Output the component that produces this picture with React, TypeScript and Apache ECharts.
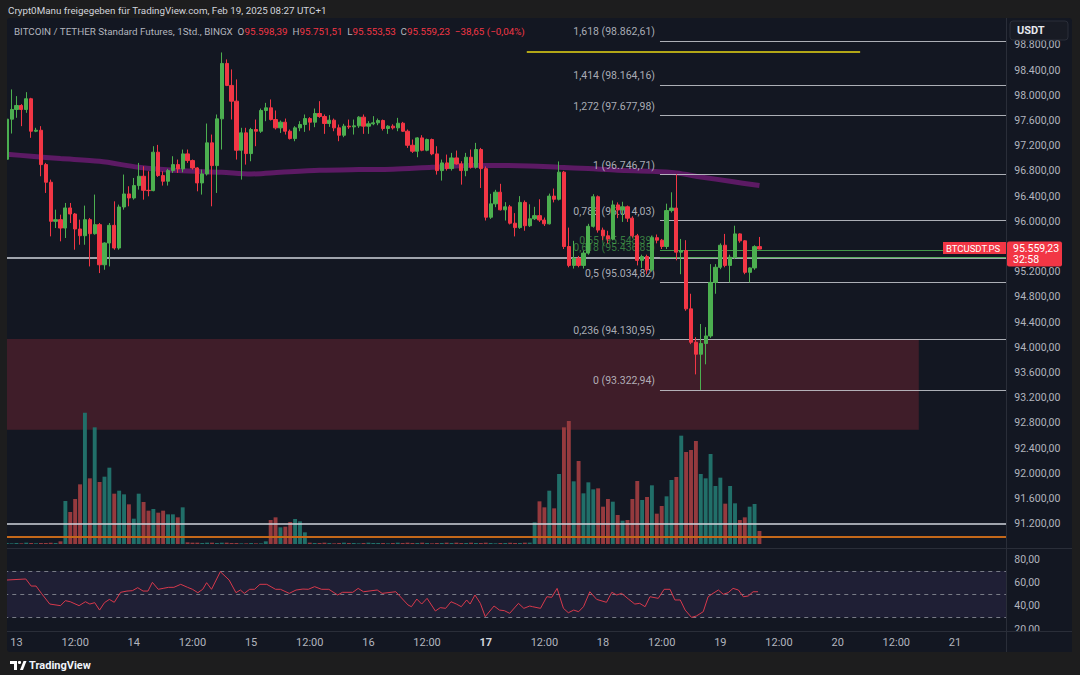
import React, { useEffect, useRef } from "react";
import * as echarts from "echarts";

// ---------- axis / time settings ----------
const FIRST_HOUR = -2; // hours relative to Feb 13, 00:00
const LAST_AXIS_HOUR = 202;
const FIRST_DAY = 13;
const BOLD_DAY = 17;

// ---------- OHLC rows [open, high, low, close], one per hour from FIRST_HOUR ----------
const candlesDay13: number[][] = [
  [96985, 97643, 96953, 97621], [97621, 98093, 97393, 97775],
  [97775, 97987, 97643, 97838], [97838, 97860, 97510, 97775], [97775, 98050, 97722, 97945], [97945, 97960, 97325, 97430],
  [97430, 97484, 97415, 97445], [97445, 97510, 96715, 96900], [96900, 96927, 96450, 96620], [96620, 96662, 95761, 96000],
  [96000, 96185, 95893, 96026], [96026, 96105, 95682, 95893], [95893, 96291, 95735, 96212], [96212, 96291, 95973, 96116],
  [96116, 96132, 95549, 95878], [95878, 96026, 95628, 95771], [95771, 96249, 95628, 96026], [96026, 96053, 95284, 95803],
  [95803, 96424, 95788, 95947], [95947, 95973, 95178, 95310], [95310, 95666, 95231, 95655], [95655, 95973, 95284, 95936],
  [95936, 96317, 95549, 95576], [95576, 96265, 95549, 96227], [96227, 96742, 96185, 96434], [96434, 96556, 96238, 96370],
];
const candlesDay14: number[][] = [
  [96370, 96688, 96344, 96567], [96567, 96927, 96503, 96715], [96715, 96874, 96344, 96492], [96492, 96794, 96397, 96487],
  [96487, 97192, 96476, 97097], [97097, 97213, 96704, 96726], [96726, 96794, 96567, 96636], [96636, 96832, 96567, 96805],
  [96805, 97033, 96768, 96900], [96900, 96980, 96768, 96832], [96832, 97139, 96778, 97070], [97070, 97139, 96927, 96964],
  [96964, 96980, 96821, 96847], [96847, 96860, 96476, 96609], [96609, 96821, 96424, 96752], [96752, 97552, 96726, 97245],
  [97245, 97377, 96238, 96884], [96884, 97695, 96450, 97626], [97626, 98680, 97139, 98506], [98506, 98570, 98146, 98157],
  [98157, 98411, 97616, 97907], [97907, 98252, 96980, 97128], [97128, 97484, 96662, 97404], [97404, 97484, 96900, 97075],
];
const candlesDay15: number[][] = [
  [97075, 97483, 96953, 97457], [97457, 97615, 97192, 97430], [97430, 97790, 97403, 97759], [97759, 97880, 97589, 97801],
  [97801, 97934, 97600, 97615], [97615, 97759, 97457, 97483], [97483, 97600, 97403, 97573], [97573, 97631, 97377, 97430],
  [97430, 97457, 97298, 97313], [97313, 97510, 97271, 97483], [97483, 97589, 97430, 97536], [97536, 97695, 97419, 97631],
  [97631, 97653, 97441, 97573], [97573, 97790, 97494, 97711], [97711, 97907, 97642, 97663], [97663, 97695, 97388, 97552],
  [97552, 97685, 97499, 97605], [97605, 97631, 97430, 97483], [97483, 97536, 97271, 97366], [97366, 97547, 97335, 97510],
  [97510, 97615, 97467, 97499], [97499, 97615, 97377, 97515], [97515, 97669, 97483, 97653], [97653, 97695, 97388, 97510],
];
const candlesDay16: number[][] = [
  [97510, 97589, 97388, 97547], [97547, 97669, 97525, 97563], [97563, 97631, 97525, 97600], [97600, 97615, 97441, 97473],
  [97473, 97525, 97388, 97510], [97510, 97540, 97457, 97483], [97483, 97642, 97430, 97557], [97557, 97578, 97419, 97430],
  [97430, 97457, 97165, 97207], [97207, 97298, 97085, 97112], [97112, 97335, 97017, 97324], [97324, 97367, 97112, 97128],
  [97128, 97313, 97112, 97298], [97298, 97313, 97049, 97070], [97070, 97192, 96741, 96805], [96805, 96980, 96646, 96927],
  [96927, 97059, 96805, 96837], [96837, 97086, 96805, 97006], [97006, 97123, 96900, 96911], [96911, 96953, 96582, 96805],
  [96805, 97086, 96715, 97017], [97017, 97139, 96836, 96858], [96858, 97245, 96836, 97139], [97139, 97165, 96529, 96836],
];
const candlesDay17: number[][] = [
  [96836, 96870, 96012, 96065], [96065, 96436, 96038, 96277], [96277, 96500, 96224, 96462], [96462, 96595, 96171, 96182],
  [96182, 96304, 96012, 96230], [96230, 96260, 95950, 95970], [95970, 96130, 95760, 95900], [95900, 96400, 95880, 96300],
  [96300, 96330, 95850, 95930], [95930, 96270, 95910, 96040], [96040, 96230, 96020, 96090], [96090, 96350, 95990, 96020],
  [96020, 96060, 95925, 95960], [95960, 96440, 95950, 96400], [96400, 96520, 96300, 96350], [96350, 96950, 96330, 96780],
  [96780, 96800, 95560, 95600], [95600, 95900, 95270, 95300], [95300, 95690, 95250, 95415], [95415, 95450, 95270, 95300],
  [95300, 95530, 95250, 95495], [95495, 95960, 95470, 95920], [95920, 96430, 95900, 96390], [96390, 96410, 95820, 95860],
];
const candlesDay18: number[][] = [
  [95860, 95900, 95700, 95770], [95770, 95850, 95650, 95720], [95720, 96330, 95700, 96260], [96260, 96300, 96050, 96180],
  [96180, 96310, 95990, 96230], [96230, 96250, 95990, 96050], [96050, 96080, 95740, 95770], [95770, 95800, 95300, 95380],
  [95380, 95470, 95260, 95440], [95440, 95470, 95160, 95230], [95230, 95770, 95200, 95740], [95740, 95790, 95650, 95700],
  [95700, 95720, 95560, 95600], [95600, 96280, 95560, 96170], [96170, 96460, 96140, 96210], [96210, 96746.71, 95380, 95510],
  [95510, 95720, 95160, 95535], [95535, 95700, 94580, 94610], [94610, 94850, 94050, 94080], [94080, 94160, 93570, 93890],
  [93890, 94370, 93322.94, 94060], [94060, 94320, 93730, 94180], [94180, 95320, 94150, 95030], [95030, 95320, 94850, 95270],
];
const candlesDay19: number[][] = [
  [95270, 95650, 95240, 95620], [95620, 95800, 95270, 95300], [95300, 95470, 95030, 95430], [95430, 95930, 95400, 95800],
  [95800, 95810, 95660, 95690], [95690, 95700, 95160, 95190], [95190, 95270, 95030, 95260], [95260, 95620, 95230, 95597.88],
  [95598.39, 95751.51, 95553.53, 95559.23],
];
const candles = [
  ...candlesDay13, ...candlesDay14, ...candlesDay15, ...candlesDay16,
  ...candlesDay17, ...candlesDay18, ...candlesDay19,
];

// ---------- volume per hour (same hours as candles) ----------
const volumesA = [3, 2, 3, 2, 4, 3, 2, 3, 3, 4, 3, 8,
  129, 96, 135, 179, 394, 197, 350, 186, 202, 229, 151, 160, 149, 119, 76, 151, 126, 100, 105, 94, 100, 89, 89, 80, 110];
const volumesB = [5, 4, 4, 3, 4, 4, 3, 4, 4, 3, 3, 2, 2, 3, 2, 2,
  8, 72, 80, 50, 52, 66, 75, 68, 35];
const volumesC = [4, 3, 3, 4, 3, 2, 3, 4, 3, 3, 2, 3, 4, 3, 3, 3, 2, 3, 4, 3, 4, 3,
  3, 4, 3, 2, 3, 3, 4, 3, 4, 3, 3, 4, 3, 3, 4, 3, 2, 3, 3, 4, 3, 3];
const volumesD = [4, 4, 65, 128, 110, 160, 107, 210, 350, 369, 188, 249, 152, 185, 164, 167, 112, 135, 127, 87,
  70, 72, 135, 189, 132, 141, 176, 91, 114, 143, 192, 201, 325, 276, 282, 309, 210, 197, 270, 174,
  199, 121, 174, 122, 72, 80, 112, 120, 39];
const volumes = [...volumesA, ...volumesB, ...volumesC, ...volumesD];

// ---------- moving average (hour, price) ----------
const maPoints: number[][] = [
  [-2, 97064], [3, 97033], [9, 96996], [17, 96953], [25, 96858], [33, 96805], [42, 96778], [48, 96751],
  [54, 96778], [62, 96810], [70, 96821], [77, 96826], [85, 96858], [93, 96885], [99, 96885], [105, 96879],
  [111, 96858], [117, 96837], [123, 96810], [130, 96794], [135, 96767], [140, 96704], [146, 96635], [152, 96567],
];

// ---------- RSI (hour, value) ----------
const rsiPoints: number[][] = [
  [-2, 62.3], [1.9, 63.2], [3, 57.1], [4, 57.1], [5.1, 50.8], [6.8, 41.6], [9, 40.2], [10, 44.5], [11, 43.6],
  [12.8, 40.2], [14.1, 43.6], [15, 41.6], [16, 42.8], [17, 36.4], [18, 42.8], [19, 45.6], [20, 43.1], [21.3, 51.7],
  [22.6, 52.8], [23.7, 53.1], [24.8, 55.7], [25.9, 52.8], [26.9, 52.8], [27.8, 60.3], [29, 54.3], [30, 55.1],
  [31.1, 56], [32.2, 56], [33.6, 58.6], [35, 56], [36, 54.3], [37.1, 51.4], [38.1, 54.3], [38.9, 60], [39.9, 54.3],
  [41.7, 69.5], [43.5, 62.3], [44.9, 51.4], [45.8, 53.7], [46.6, 50.8], [47.7, 54.3], [48.7, 54.3], [49.8, 58.6],
  [51.2, 58.6], [53, 54.3], [54, 54.3], [55.8, 50.8], [57.2, 53.7], [58.6, 54.5], [59.7, 54.3], [61, 56.6],
  [62.4, 54.3], [63.9, 54.3], [65.7, 49.4], [66.7, 51.7], [68.8, 51.7], [69.9, 55.1], [71, 52.2], [73.8, 53.7],
  [74.8, 50.8], [77.6, 52.2], [80.1, 40.8], [80.8, 39.3], [81.9, 45.9], [82.9, 41.6], [84, 46.5], [85.7, 35.6],
  [86.7, 38.5], [87.8, 37.9], [88.9, 43.6], [90, 41.6], [91, 39.3], [92.1, 45.1], [92.8, 41.6], [93.8, 49.4],
  [94.9, 42.2], [95.9, 30.7], [97.7, 39.9], [98.8, 36.4], [99.8, 35.9], [100.9, 33.6], [102.7, 42.2], [103.8, 37.9],
  [105, 39.9], [105.6, 39.3], [107.2, 37.9], [108.5, 47.9], [109.5, 47.4], [110.6, 55.1], [111.9, 37.9], [112.9, 34.1],
  [114, 36.4], [115, 35], [116, 39.3], [117.3, 52.2], [118.7, 45.6], [120.7, 43.1], [121.8, 51.7], [122.8, 49.4],
  [123.8, 50.8], [125.2, 45.9], [126.5, 41.6], [127.5, 42.2], [128.6, 39.3], [129.6, 47.9], [131.3, 46.5], [132.5, 54.3],
  [133.7, 54.3], [134.7, 45.1], [135.8, 45.1], [136.8, 36.4], [138.1, 30.1], [139.1, 31.3], [140.5, 35], [141.5, 47.9],
  [142.5, 50.8], [143.6, 53.7], [144.6, 50], [145.6, 51.4], [146.6, 55.1], [147.7, 53.7], [148.7, 47.9], [149.7, 48.5],
  [150.7, 52.2], [151.7, 52.2],
];
const rsiBands = [70, 50, 30];
const rsiTicks = [20, 40, 60, 80];

// ---------- Fibonacci retracement ----------
const fibRatios = [1.618, 1.414, 1.272, 1, 0.786, 0.65, 0.618, 0.5, 0.236, 0];
const fibPrices = [98862.61, 98164.16, 97677.98, 96746.71, 96014.03, 95548.39, 95436.85, 95034.82, 94130.95, 93322.94];
const fibGreen = [0.65, 0.618];
const fibStartHour = 131.65;

// ---------- drawn levels ----------
const supportPrice = 95418;
const lowerWhitePrice = 91200;
const orangePrice = 90990;
const yellowLevel = { price: 98688, fromHour: 104.4, toHour: 172.6 };
const demandZone = { top: 94131, bottom: 92690, fromHour: -2.5, toHour: 184.6 };

// ---------- header ----------
const headerLine = "Crypt0Manu freigegeben für TradingView.com, Feb 19, 2025 08:27 UTC+1";
const symbolLine = "BITCOIN / TETHER Standard Futures, 1Std., BINGX";
const lastChange = -38.65;
const lastChangePct = -0.04;
const countdown = "32:58";

function fmt(n: number, d = 2): string {
  const neg = n < 0;
  const s = Math.abs(n).toFixed(d);
  const [i, f] = s.split(".");
  const ip = i.replace(/\B(?=(\d{3})+(?!\d))/g, ".");
  return (neg ? "−" : "") + ip + (f ? "," + f : "");
}
function ratioStr(r: number): string {
  return String(r).replace(".", ",");
}

const BG_OUTER = "#1d1d1e";
const BG_PANEL = "#131722";
const UP = "#4caf50";
const DOWN = "#f23645";
const AXIS_TEXT = "#b2b5be";
const SEP = "#2a2e39";
const FONT = "Roboto, 'Noto Sans', sans-serif";

export default function App() {
  const ref = useRef<HTMLDivElement>(null);
  useEffect(() => {
    if (!ref.current) return;
    const chart = echarts.init(ref.current, undefined, { renderer: "svg" });

    const cats = Array.from({ length: LAST_AXIS_HOUR - FIRST_HOUR + 1 }, (_, i) => String(i + FIRST_HOUR));
    const candleData = candles.map(([o, h, l, c]) => [o, c, l, h]);
    const volData = volumes.map((v, i) => {
      const c = candles[i];
      const up = c ? c[3] >= c[0] : true;
      return { value: v, itemStyle: { color: up ? "#216f69" : "#953a3e" } };
    });
    const last = candles[candles.length - 1];

    const gridLeft = 4.28;
    const gridWidth = 1002;
    const hMin = FIRST_HOUR - 0.5;
    const hMax = LAST_AXIS_HOUR + 0.5;

    const fibLines = fibPrices.map((p, i) => {
      const green = fibGreen.includes(fibRatios[i]);
      return [
        { coord: [fibStartHour, p], lineStyle: { color: green ? "rgba(76,175,80,0.85)" : "rgba(200,202,208,0.85)", width: 1, type: "solid" } },
        { coord: [hMax, p] },
      ];
    });

    const option: any = {
      animation: false,
      backgroundColor: BG_OUTER,
      textStyle: { fontFamily: FONT },
      grid: [
        { left: gridLeft, width: gridWidth, top: 19.7, height: 529.2, outerBoundsMode: "none", containLabel: false },
        { left: gridLeft, width: gridWidth, top: 344, height: 200, outerBoundsMode: "none", containLabel: false },
        { left: gridLeft, width: gridWidth, top: 549, height: 82, outerBoundsMode: "none", containLabel: false },
      ],
      xAxis: [
        { type: "category", gridIndex: 0, data: cats, show: false, boundaryGap: true },
        { type: "category", gridIndex: 1, data: cats, show: false, boundaryGap: true },
        {
          type: "category", gridIndex: 2, data: cats, boundaryGap: true,
          axisLine: { show: false }, axisTick: { show: false }, splitLine: { show: false },
          axisLabel: {
            interval: (index: number) => {
              const h = index + FIRST_HOUR;
              return h >= 0 && h % 12 === 0;
            },
            hideOverlap: false,
            margin: 6,
            color: AXIS_TEXT,
            fontSize: 11,
            fontFamily: FONT,
            formatter: (value: string) => {
              const h = Number(value);
              if (h % 24 === 0) {
                const day = FIRST_DAY + h / 24;
                return day === BOLD_DAY ? `{b|${day}}` : String(day);
              }
              return "12:00";
            },
            rich: { b: { fontWeight: "bold", color: "#d1d4dc", fontSize: 11, fontFamily: FONT } },
          },
        },
        { type: "value", gridIndex: 0, min: hMin, max: hMax, show: false },
        { type: "value", gridIndex: 2, min: hMin, max: hMax, show: false },
      ],
      yAxis: [
        {
          type: "value", gridIndex: 0, position: "right", min: 90800, max: 99200, interval: 400,
          axisLine: { show: false }, axisTick: { show: false }, splitLine: { show: false },
          axisLabel: {
            color: AXIS_TEXT, fontSize: 10.5, fontFamily: FONT, margin: 8,
            showMinLabel: false, showMaxLabel: false,
            formatter: (v: number) => fmt(v),
          },
        },
        { type: "value", gridIndex: 1, min: 0, max: 600, show: false },
        {
          type: "value", gridIndex: 2, position: "right", min: 18.36, max: 89.05,
          axisLine: { show: false }, axisTick: { show: false }, splitLine: { show: false },
          axisLabel: {
            color: AXIS_TEXT, fontSize: 10.5, fontFamily: FONT, margin: 8,
            customValues: rsiTicks,
            formatter: (v: number) => fmt(v),
          },
        },
      ],
      series: [
        {
          type: "line", name: "zone", xAxisIndex: 3, yAxisIndex: 0, data: [], z: 1,
          markArea: {
            silent: true,
            itemStyle: { color: "rgba(242,54,69,0.2)" },
            data: [[{ coord: [demandZone.fromHour, demandZone.top] }, { coord: [demandZone.toHour, demandZone.bottom] }]],
          },
        },
        {
          type: "bar", name: "volume", xAxisIndex: 1, yAxisIndex: 1, data: volData, barWidth: "80%", z: 2,
        },
        {
          type: "line", name: "ma", xAxisIndex: 3, yAxisIndex: 0, data: maPoints, showSymbol: false, symbol: "none",
          smooth: 0.3, lineStyle: { color: "#5c1a64", width: 5 }, z: 3,
        },
        {
          type: "scatter", name: "fibLabels", xAxisIndex: 3, yAxisIndex: 0, symbolSize: 0, z: 3,
          data: fibPrices.map((p, i) => ({
            value: [fibStartHour, p],
            label: { color: fibGreen.includes(fibRatios[i]) ? "rgba(76,175,80,0.85)" : "#d1d4dc" },
          })),
          label: {
            show: true, position: "left", distance: 5, offset: [0, -9], fontSize: 10.5, fontFamily: FONT,
            formatter: (pr: any) => `${ratioStr(fibRatios[pr.dataIndex])} (${fmt(fibPrices[pr.dataIndex])})`,
          },
        },
        {
          type: "line", name: "levels", xAxisIndex: 3, yAxisIndex: 0, data: [], z: 4,
          markLine: {
            silent: true, symbol: ["none", "none"], label: { show: false },
            data: [
              [{ coord: [hMin, supportPrice], lineStyle: { color: "#d1d4dc", width: 1.5, type: "solid" } }, { coord: [hMax, supportPrice] }],
              [{ coord: [hMin, lowerWhitePrice], lineStyle: { color: "#d1d4dc", width: 1.5, type: "solid" } }, { coord: [hMax, lowerWhitePrice] }],
              [{ coord: [hMin, orangePrice], lineStyle: { color: "#c4681a", width: 2, type: "solid" } }, { coord: [hMax, orangePrice] }],
              [{ coord: [yellowLevel.fromHour, yellowLevel.price], lineStyle: { color: "#e8d714", width: 1.5, type: "solid" } }, { coord: [yellowLevel.toHour, yellowLevel.price] }],
              ...fibLines,
            ],
          },
        },
        {
          type: "candlestick", name: "BTCUSDT", xAxisIndex: 0, yAxisIndex: 0, data: candleData, barWidth: "76%", z: 5,
          itemStyle: { color: UP, color0: DOWN, borderColor: UP, borderColor0: DOWN, borderWidth: 1 },
        },
        {
          type: "line", name: "rsi", xAxisIndex: 4, yAxisIndex: 2, data: rsiPoints, showSymbol: false, symbol: "none",
          lineStyle: { color: "#d8394c", width: 1 }, z: 5,
          markArea: {
            silent: true, itemStyle: { color: "rgba(126,87,194,0.12)" },
            data: [[{ yAxis: rsiBands[0] }, { yAxis: rsiBands[2] }]],
          },
          markLine: {
            silent: true, symbol: ["none", "none"], label: { show: false },
            lineStyle: { color: "#787b86", width: 1, type: [4, 4] },
            data: rsiBands.map((b) => ({ yAxis: b })),
          },
        },
      ],
      graphic: [
        { type: "rect", z: -10, shape: { x: 7, y: 18, width: 1065, height: 634, r: 3 }, style: { fill: BG_PANEL } },
        { type: "rect", z: 100, shape: { x: 0, y: 18, width: 7, height: 634 }, style: { fill: BG_OUTER } },
        { type: "line", z: 50, shape: { x1: 1006.5, y1: 18, x2: 1006.5, y2: 652 }, style: { stroke: SEP, lineWidth: 1 } },
        { type: "line", z: 50, shape: { x1: 7, y1: 548.5, x2: 1072, y2: 548.5 }, style: { stroke: SEP, lineWidth: 1 } },
        { type: "line", z: 50, shape: { x1: 7, y1: 631.5, x2: 1072, y2: 631.5 }, style: { stroke: SEP, lineWidth: 1 } },
        { type: "rect", z: 90, shape: { x: 1007, y: 632, width: 65, height: 20 }, style: { fill: BG_PANEL } },
        {
          type: "text", z: 100, x: 8, y: 5.5,
          style: { text: headerLine, fill: "#d1d4dc", font: `9.8px ${FONT}` },
        },
        {
          type: "text", z: 100, x: 14, y: 26.5,
          style: {
            text:
              `{t|${symbolLine}  O}{r|${fmt(last[0])}}{t|  H}{r|${fmt(last[1])}}{t|  L}{r|${fmt(last[2])}}{t|  C}{r|${fmt(last[3])}}{r|  ${fmt(lastChange)} (${fmt(lastChangePct)}%)}`,
            rich: {
              t: { fill: "#b2b5be", font: `9.8px ${FONT}` },
              r: { fill: DOWN, font: `9.8px ${FONT}` },
            },
          },
        },
        { type: "rect", z: 100, shape: { x: 1010, y: 21, width: 58, height: 19, r: 3 }, style: { fill: "#181b24", stroke: SEP, lineWidth: 1 } },
        { type: "text", z: 101, x: 1017, y: 25, style: { text: "USDT", fill: "#e6e8ee", font: `bold 11px ${FONT}` } },
        { type: "rect", z: 100, shape: { x: 943, y: 242, width: 63, height: 12 }, style: { fill: DOWN } },
        { type: "text", z: 101, x: 946, y: 243.5, style: { text: "BTCUSDT.PS", fill: "#ffffff", font: `9.5px ${FONT}` } },
        { type: "rect", z: 100, shape: { x: 1007, y: 241.5, width: 55, height: 25, r: 2 }, style: { fill: DOWN } },
        { type: "text", z: 101, x: 1013, y: 242.5, style: { text: fmt(last[3]), fill: "#ffffff", font: `10.5px ${FONT}` } },
        { type: "text", z: 101, x: 1013, y: 254, style: { text: countdown, fill: "#ffffff", font: `10.5px ${FONT}` } },
        { type: "rect", z: 100, shape: { x: 10, y: 661, width: 7, height: 3 }, style: { fill: "#ffffff" } },
        { type: "rect", z: 100, shape: { x: 14, y: 661, width: 3, height: 9 }, style: { fill: "#ffffff" } },
        { type: "circle", z: 100, shape: { cx: 19.5, cy: 662.5, r: 1.6 }, style: { fill: "#ffffff" } },
        { type: "polygon", z: 100, shape: { points: [[20, 670], [23.5, 661], [26.5, 661], [23, 670]] }, style: { fill: "#ffffff" } },
        { type: "text", z: 100, x: 29, y: 659.5, style: { text: "TradingView", fill: "#f0f3fa", font: `bold 11px ${FONT}` } },
      ],
    };
    chart.setOption(option);
    return () => chart.dispose();
  }, []);
  return <div ref={ref} style={{ position: "absolute", left: 0, top: 0, width: 1080, height: 675 }} />;
}
